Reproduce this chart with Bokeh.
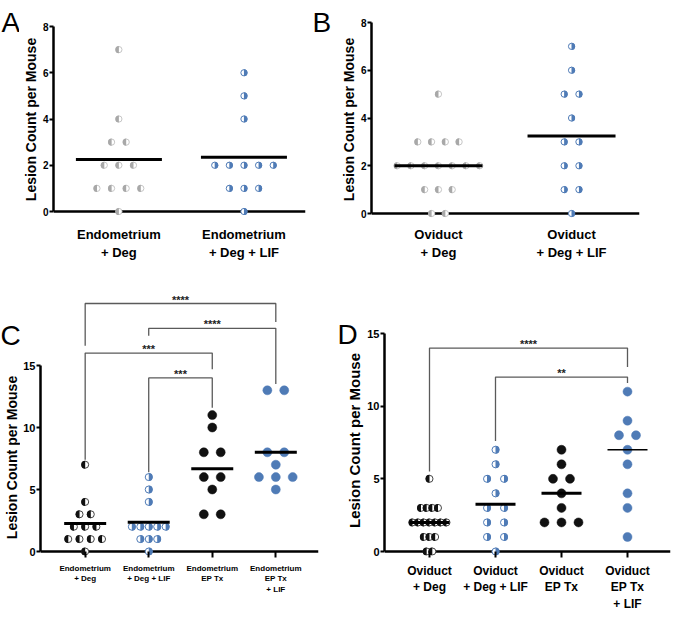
import math
from collections import Counter, defaultdict
from bokeh.plotting import figure
from bokeh.layouts import column, row
from bokeh.models import Range1d, FixedTicker, Span
from bokeh.core.properties import value
from bokeh.embed import file_html
from bokeh.resources import INLINE

# ---------------- data ----------------
labels_A = ["Endometrium\n+ Deg", "Endometrium\n+ Deg + LIF"]
labels_B = ["Oviduct\n+ Deg", "Oviduct\n+ Deg + LIF"]
labels_C = ["Endometrium\n+ Deg", "Endometrium\n+ Deg + LIF", "Endometrium\nEP Tx", "Endometrium\nEP Tx\n+ LIF"]
labels_D = ["Oviduct\n+ Deg", "Oviduct\n+ Deg + LIF", "Oviduct\nEP Tx", "Oviduct\nEP Tx\n+ LIF"]
panel_letters = ["A", "B", "C", "D"]
y_title = "Lesion Count per Mouse"

endo_deg = [7, 4, 3, 3, 2, 2, 2, 1, 1, 1, 1, 0]
endo_deg_lif = [6, 5, 4, 2, 2, 2, 2, 2, 1, 1, 1, 0]
ovi_deg = [5, 3, 3, 3, 3, 2, 2, 2, 2, 2, 2, 2, 1, 1, 1, 0, 0]
ovi_deg_lif = [7, 6, 5, 5, 4, 3, 3, 2, 2, 1, 1, 0]
endo_ep = [11, 10, 8, 8, 6, 6, 5, 3, 3]
endo_ep_lif = [13, 13, 8, 8, 7, 6, 6, 6, 5]
ovi_ep = [7, 6, 5, 5, 4, 3, 2, 2, 2]
ovi_ep_lif = [11, 9, 8, 8, 7, 6, 4, 3, 1]

lines_A = [2.25, 2.35]
lines_B = [2.0, 3.25]
lines_C = [2.25, 2.35, 6.67, 8.0]
lines_D = [2.0, 3.25, 4.0, 7.0]

y_ticks_AB = [0, 2, 4, 6, 8]
y_ticks_CD = [0, 5, 10, 15]

# significance brackets
sig_C_a = [1, 2, 1, 2]
sig_C_b = [4, 4, 3, 3]
sig_C_level = [20, 18, 16, 14]
sig_C_end_a = [16.6, 17.4, 7.4, 6.4]
sig_C_end_b = [18.5, 13.5, 14.7, 11.6]
sig_C_text = ["****", "****", "***", "***"]
sig_D_a = [1, 2]
sig_D_b = [4, 4]
sig_D_level = [14, 12]
sig_D_end_a = [5.5, 7.6]
sig_D_end_b = [12.7, 11.6]
sig_D_text = ["****", "**"]

# ---------------- style ----------------
FONT = "Liberation Sans"
GRAY = "#a8a8a8"
GRAY_LINE = "#c6c6c6"
BLUE = "#4f7bb6"
BLACK = "#111111"


def offsets_px(vals, spacing, maxw):
    counts = Counter(vals)
    nmax = max(counts.values())
    s = spacing if nmax < 2 else min(spacing, maxw / (nmax - 1))
    seen = defaultdict(int)
    out = []
    for v in vals:
        n = counts[v]
        i = seen[v]
        seen[v] += 1
        out.append((i - (n - 1) / 2) * s)
    return out


def strip(fig_box, items):
    """A blank figure used only to hold texts that sit outside the plot frames."""
    fx0, fy0, fx1, fy1 = fig_box
    p = figure(width=fx1 - fx0, height=fy1 - fy0, title=None,
               x_range=Range1d(fx0, fx1), y_range=Range1d(fy1, fy0),
               x_axis_type=None, y_axis_type=None,
               output_backend="svg", toolbar_location=None,
               min_border_left=0, min_border_right=0, min_border_top=0, min_border_bottom=0)
    p.outline_line_color = None
    p.grid.visible = False
    p.background_fill_color = "white"
    p.border_fill_color = "white"
    for (txt, x, y, size, ang, align, base, style) in items:
        p.text([x], [y], text=[txt], angle=ang, text_align=align, text_baseline=base,
               text_font=value(FONT), text_font_size=size, text_font_style=style,
               text_color="black")
    return p


def build(fig_box, frame_box, cat_px, y0_px, yref_px, yref_val, ymax, yticks,
          labels, groups, lines, line_len, line_widths, spacing, maxw,
          tick_font, title_font, cat_font, cat_ticks, with_title, sig=None, sig_font="11px"):
    fx0, fy0, fx1, fy1 = fig_box
    L, T, R, B = frame_box
    n = len(cat_px)
    ppx = (cat_px[-1] - cat_px[0]) / (n - 1)
    x_start = 1 - (cat_px[0] - L) / ppx
    x_end = n + (R - cat_px[-1]) / ppx
    ppy = (y0_px - yref_px) / yref_val
    y_start = -(B - y0_px) / ppy
    y_end = (y0_px - T) / ppy

    p = figure(width=fx1 - fx0, height=fy1 - fy0, title=None,
               x_range=Range1d(x_start, x_end), y_range=Range1d(y_start, y_end),
               output_backend="svg", toolbar_location=None,
               min_border_left=L - fx0, min_border_right=fx1 - R,
               min_border_top=T - fy0, min_border_bottom=fy1 - B)
    p.outline_line_color = None
    p.grid.visible = False
    p.background_fill_color = "white"
    p.border_fill_color = "white"

    ya = p.yaxis[0]
    ya.bounds = (0, ymax)
    ya.ticker = FixedTicker(ticks=yticks)
    ya.minor_tick_line_color = None
    ya.axis_line_width = 2.5
    ya.axis_line_color = "black"
    ya.major_tick_line_color = "black"
    ya.major_tick_line_width = 2
    ya.major_tick_out = 4
    ya.major_tick_in = 0
    ya.major_label_standoff = 1
    ya.major_label_text_font = FONT
    ya.major_label_text_font_style = "bold"
    ya.major_label_text_font_size = tick_font
    ya.major_label_text_color = "black"
    if with_title:
        ya.axis_label = y_title
        ya.axis_label_text_font = FONT
        ya.axis_label_text_font_style = "bold"
        ya.axis_label_text_font_size = title_font
        ya.axis_label_text_color = "black"
        ya.axis_label_standoff = 1

    xa = p.xaxis[0]
    xa.ticker = FixedTicker(ticks=list(range(1, n + 1)))
    xa.major_label_overrides = {i + 1: lab for i, lab in enumerate(labels)}
    xa.axis_line_color = None
    xa.minor_tick_line_color = None
    if cat_ticks:
        xa.major_tick_in = int(round(B - y0_px))
        xa.major_tick_out = 2
        xa.major_tick_line_width = 2
        xa.major_tick_line_color = "black"
    else:
        xa.major_tick_line_color = None
        xa.major_tick_out = 0
        xa.major_tick_in = 0
    xa.major_label_standoff = 6
    xa.major_label_text_font = FONT
    xa.major_label_text_font_style = "bold"
    xa.major_label_text_font_size = cat_font
    xa.major_label_text_color = "black"

    p.add_layout(Span(location=0, dimension="width", line_color="black",
                      line_width=2.5, level="underlay"))

    for gi, g in enumerate(groups):
        vals, kind, fill, edge, r = g
        xs = [gi + 1 + o / ppx for o in offsets_px(vals, spacing, maxw)]
        if kind == "solid":
            p.scatter(xs, vals, marker="circle", size=2 * r, fill_color=fill,
                      line_color=fill, line_width=0.5)
        else:
            p.scatter(xs, vals, marker="circle", size=2 * r - 1, fill_color="white",
                      line_color=edge, line_width=1)
            if kind == "left":
                a0, a1 = math.pi / 2, 3 * math.pi / 2
            else:
                a0, a1 = -math.pi / 2, math.pi / 2
            p.wedge(xs, vals, radius=r, radius_units="screen", start_angle=a0,
                    end_angle=a1, fill_color=fill, line_color=None)

    for gi, (lv, lw) in enumerate(zip(lines, line_widths)):
        p.scatter([gi + 1], [lv], marker="dash", size=line_len, line_color="black",
                  line_width=lw)

    if sig is not None:
        sa, sb, lev, ea, eb, txt = sig
        xs_l, ys_l, tx, ty = [], [], [], []
        for a, b, lv, e1, e2, t in zip(sa, sb, lev, ea, eb, txt):
            xs_l.append([a, a, b, b])
            ys_l.append([e1, lv, lv, e2])
            tx.append((a + b) / 2)
            ty.append(lv)
        p.multi_line(xs_l, ys_l, line_color="#5a5a5a", line_width=1.3)
        p.text(tx, ty, text=txt, text_align="center", text_baseline="bottom",
               text_font=value(FONT), text_font_style="bold", text_font_size=sig_font,
               text_color="#222222", y_offset=2)
    return p


# ---------------- panels ----------------
pA = build((19, 0, 308, 270), (43, 18, 305, 220), [111, 241], 211, 26, 8, 8, y_ticks_AB,
           labels_A,
           [(endo_deg, "left", GRAY, GRAY_LINE, 3.6), (endo_deg_lif, "right", BLUE, BLUE, 3.6)],
           lines_A, 86, [3, 3], 15.2, 85, "10px", "14px", "13px", False, True)
pB = build((337, 0, 673, 270), (363, 18, 639, 220), [432, 569], 213, 22, 8, 8, y_ticks_AB,
           labels_B,
           [(ovi_deg, "left", GRAY, GRAY_LINE, 3.6), (ovi_deg_lif, "right", BLUE, BLUE, 3.6)],
           lines_B, 88, [3, 3], 15.2, 85, "10px", "14px", "13px", False, True)
pC = build((20, 270, 337, 618), (38, 284, 318, 555), [83, 147, 211, 275], 551, 365, 15, 15,
           y_ticks_CD, labels_C,
           [(endo_deg, "left", BLACK, "#444444", 4), (endo_deg_lif, "right", BLUE, BLUE, 4),
            (endo_ep, "solid", BLACK, BLACK, 4.5), (endo_ep_lif, "solid", BLUE, BLUE, 4.5)],
           lines_C, 42, [3, 3, 3, 3], 17, 34, "11px", "14px", "8px", True, False,
           sig=(sig_C_a, sig_C_b, sig_C_level, sig_C_end_a, sig_C_end_b, sig_C_text))
pD = build((364, 270, 673, 618), (384, 284, 670, 555), [429, 495, 561, 627], 551, 333, 15, 15,
           y_ticks_CD, labels_D,
           [(ovi_deg, "left", BLACK, "#444444", 4), (ovi_deg_lif, "right", BLUE, BLUE, 4),
            (ovi_ep, "solid", BLACK, BLACK, 4.5), (ovi_ep_lif, "solid", BLUE, BLUE, 4.5)],
           lines_D, 40, [3, 3, 3, 1.5], 17, 34, "11px", "15px", "12px", True, False,
           sig=(sig_D_a, sig_D_b, sig_D_level, sig_D_end_a, sig_D_end_b, sig_D_text))

sA = strip((0, 0, 19, 270), [(panel_letters[0], 1, 22, "28px", 0, "left", "alphabetic", "normal")])
sB = strip((308, 0, 337, 270), [(panel_letters[1], 312, 22, "28px", 0, "left", "alphabetic", "normal")])
sC = strip((0, 270, 20, 618), [(panel_letters[2], 0, 335, "28px", 0, "left", "alphabetic", "normal"),
                               (y_title, 11, 457, "14px", math.pi / 2, "center", "middle", "bold")])
sD = strip((337, 270, 364, 618), [(panel_letters[3], 337, 334, "28px", 0, "left", "alphabetic", "normal"),
                                  (y_title, 354, 440, "15px", math.pi / 2, "center", "middle", "bold")])

layout = column(row(column(sA), column(pA), column(sB), column(pB)),
                row(column(sC), column(pC), column(sD), column(pD)))
open("out.html", "w").write(file_html(layout, INLINE))
